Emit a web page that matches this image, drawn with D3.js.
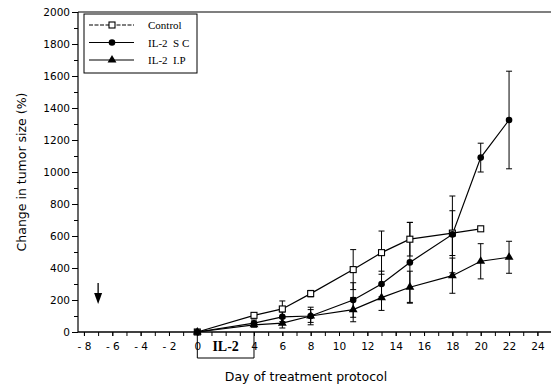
<!DOCTYPE html>
<html lang="en">
<head>
<meta charset="UTF-8">
<title>Change in tumor size</title>
<script src="https://cdn.jsdelivr.net/npm/d3@7"></script>
<style>
  body { margin: 0; background: #fff; }
  text { fill: #000; }
</style>
</head>
<body>
<div id="container"></div>
<script>
// data
var days = [0, 4, 6, 8, 11, 13, 15, 18, 20, 22];
var controlVals = [0, 104, 144, 240, 390, 496, 580, 618, 645];
var controlErr = [0, 10, 50, 20, 125, 135, 105, 140, 0];
var scVals = [0, 55, 95, 100, 200, 300, 435, 610, 1090, 1325];
var scErr = [0, 20, 30, 55, 108, 80, 250, 240, 90, 305];
var ipVals = [0, 45, 55, 100, 140, 215, 280, 352, 442, 467];
var ipErr = [0, 15, 30, 40, 76, 80, 100, 110, 110, 100];
// day 2 label sits under the IL-2 box, so it is not printed
var xTicks = [-8, -6, -4, -2, 0, 4, 6, 8, 10, 12, 14, 16, 18, 20, 22, 24];
var yTicks = [0, 200, 400, 600, 800, 1000, 1200, 1400, 1600, 1800, 2000];
var seriesNames = ["Control", "IL-2  S C", "IL-2  I.P"];

var width = 551, height = 387;
var svg = d3.select("#container").append("svg")
    .attr("width", width)
    .attr("height", height);

var x = d3.scaleLinear().domain([-8.42, 24.96]).range([78, 551]);
var y = d3.scaleLinear().domain([0, 2000]).range([332, 12]);

function toPoints(vals, errs) {
    return vals.map((v, i) => ({ day: days[i], v: v, e: errs[i] }));
}
var series = [
    { name: seriesNames[0], pts: toPoints(controlVals, controlErr), marker: "square" },
    { name: seriesNames[1], pts: toPoints(scVals, scErr), marker: "circle" },
    { name: seriesNames[2], pts: toPoints(ipVals, ipErr), marker: "triangle" }
];

// axes
var xAxisMinor = d3.axisBottom(x).tickValues(d3.range(-8, 25, 1)).tickSize(4).tickFormat("");
var xAxis = d3.axisBottom(x).tickValues(xTicks).tickSize(4)
    .tickFormat(d => d < 0 ? "- " + (-d) : d);
var yAxisMinor = d3.axisLeft(y).tickValues(d3.range(100, 2000, 200)).tickSize(4).tickFormat("");
var yAxis = d3.axisLeft(y).tickValues(yTicks).tickSize(6).tickFormat(d3.format("d"));

function styleAxis(g) {
    g.select(".domain").remove();
    g.selectAll("line").attr("stroke", "#000").attr("stroke-width", 1);
    g.selectAll("text").attr("font-family", "DejaVu Sans, sans-serif").attr("font-size", 10.5);
}

svg.append("g").attr("transform", "translate(0," + y(0) + ")").call(xAxisMinor).call(styleAxis);
svg.append("g").attr("transform", "translate(0," + y(0) + ")").call(xAxis).call(styleAxis)
    .selectAll("text").attr("dy", "1.0em");
svg.append("g").attr("transform", "translate(" + x.range()[0] + ",0)").call(yAxisMinor).call(styleAxis);
svg.append("g").attr("transform", "translate(" + x.range()[0] + ",0)").call(yAxis).call(styleAxis)
    .selectAll("text").attr("x", -8);

// frame lines
svg.append("line").attr("x1", x.range()[0]).attr("x2", x.range()[1])
    .attr("y1", y(0)).attr("y2", y(0)).attr("stroke", "#000").attr("stroke-width", 1.5);
svg.append("line").attr("x1", x.range()[0]).attr("x2", x.range()[0])
    .attr("y1", y(0)).attr("y2", y(2000)).attr("stroke", "#000").attr("stroke-width", 1.2);
svg.append("line").attr("x1", x.range()[0]).attr("x2", x.range()[1])
    .attr("y1", y(2000)).attr("y2", y(2000)).attr("stroke", "#000").attr("stroke-width", 1.2);

// axis titles
svg.append("text")
    .attr("transform", "translate(26," + y(1000) + ") rotate(-90)")
    .attr("text-anchor", "middle")
    .attr("font-family", "DejaVu Sans, sans-serif").attr("font-size", 12.5)
    .text("Change in tumor size (%)");
svg.append("text")
    .attr("x", 306).attr("y", 381)
    .attr("text-anchor", "middle")
    .attr("font-family", "DejaVu Sans, sans-serif").attr("font-size", 12.5)
    .text("Day of treatment protocol");

// lines + error bars
var line = d3.line().x(d => x(d.day)).y(d => y(d.v));
var capW = 3;
series.forEach(s => {
    svg.append("path").datum(s.pts).attr("d", line)
        .attr("fill", "none").attr("stroke", "#000").attr("stroke-width", 1.2);
    var eb = svg.append("g").selectAll("g").data(s.pts.filter(p => p.e > 0)).enter().append("g");
    eb.append("line").attr("x1", d => x(d.day)).attr("x2", d => x(d.day))
        .attr("y1", d => y(d.v - d.e)).attr("y2", d => y(d.v + d.e))
        .attr("stroke", "#000").attr("stroke-width", 1);
    [1, -1].forEach(sign => {
        eb.append("line").attr("x1", d => x(d.day) - capW).attr("x2", d => x(d.day) + capW)
            .attr("y1", d => y(d.v + sign * d.e)).attr("y2", d => y(d.v + sign * d.e))
            .attr("stroke", "#000").attr("stroke-width", 1);
    });
});

function drawMarker(g, type, cx, cy) {
    if (type === "square") {
        g.append("rect").attr("x", cx - 3).attr("y", cy - 3).attr("width", 6).attr("height", 6)
            .attr("fill", "#fff").attr("stroke", "#000").attr("stroke-width", 1.1);
    } else if (type === "circle") {
        g.append("circle").attr("cx", cx).attr("cy", cy).attr("r", 3.3).attr("fill", "#000");
    } else {
        g.append("path").attr("d", d3.symbol(d3.symbolTriangle, 34)())
            .attr("transform", "translate(" + cx + "," + cy + ")").attr("fill", "#000");
    }
}

series.forEach(s => {
    var g = svg.append("g");
    s.pts.forEach(p => drawMarker(g, s.marker, x(p.day), y(p.v)));
});

// legend
var legend = svg.append("g");
legend.append("rect").attr("x", 84).attr("y", 14).attr("width", 113).attr("height", 59)
    .attr("fill", "#fff").attr("stroke", "#000").attr("stroke-width", 1);
series.forEach((s, i) => {
    var ly = 25 + i * 17.5;
    legend.append("line").attr("x1", 89).attr("x2", 134).attr("y1", ly).attr("y2", ly)
        .attr("stroke", "#000").attr("stroke-width", 1.2)
        .attr("stroke-dasharray", i === 0 ? "4,1.5" : null);
    drawMarker(legend, s.marker, 112, ly);
    legend.append("text").attr("x", 148).attr("y", ly + 4)
        .attr("font-family", "Liberation Serif, serif").attr("font-size", 11)
        .style("white-space", "pre")
        .text(s.name);
});

// IL-2 treatment bracket below the axis
var bx0 = x(0), bx1 = x(4), by = 358;
svg.append("path")
    .attr("d", "M" + bx0 + "," + y(0) + "V" + by + "H" + bx1 + "V" + y(0))
    .attr("fill", "none").attr("stroke", "#000").attr("stroke-width", 1);
svg.append("text").attr("x", (bx0 + bx1) / 2).attr("y", 351)
    .attr("text-anchor", "middle")
    .attr("font-family", "Liberation Serif, serif").attr("font-weight", "bold").attr("font-size", 14)
    .text("IL-2");

// arrow at day -7
var ax = x(-7);
svg.append("line").attr("x1", ax).attr("x2", ax).attr("y1", 283).attr("y2", 296)
    .attr("stroke", "#000").attr("stroke-width", 1.3);
svg.append("path")
    .attr("d", "M" + (ax - 4) + ",293 L" + (ax + 4) + ",293 L" + ax + ",304 Z")
    .attr("fill", "#000");
</script>
</body>
</html>
